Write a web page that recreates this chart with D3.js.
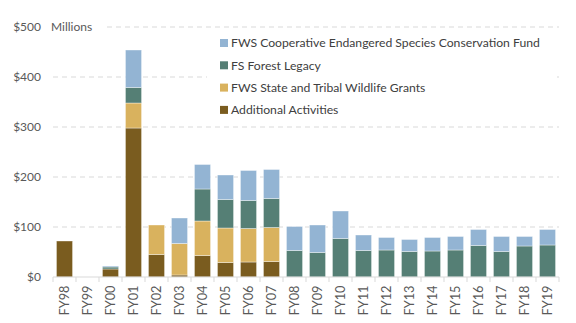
<!DOCTYPE html>
<html><head><meta charset="utf-8">
<script src="https://cdn.jsdelivr.net/npm/d3@7"></script>
<style>body{margin:0;background:#fff;} svg{display:block;font-family:Lato,"Open Sans",sans-serif;}</style>
</head><body><svg id="c" width="576" height="323"></svg>
<script>
const categories = ["FY98","FY99","FY00","FY01","FY02","FY03","FY04","FY05","FY06","FY07","FY08","FY09","FY10","FY11","FY12","FY13","FY14","FY15","FY16","FY17","FY18","FY19"];
const additionalActivities = [72,0,16,298,45,4,43,29,30,31,0,0,0,0,0,0,0,0,0,0,0,0];
const stateTribalGrants    = [0,0,0,50,59,63,69,69,67,68,0,0,0,0,0,0,0,0,0,0,0,0];
const forestLegacy         = [0,0,4,31,0,0,64,57,56,58,53,49,77,53,54,51,52,54,63,51,62,64];
const cooperativeFund      = [0,0,2,75,0,51,49,49,60,58,48,55,55,31,25,24,27,27,32,30,19,31];
const yTicks = [0,100,200,300,400,500];
const seriesNames = ["Additional Activities","FWS State and Tribal Wildlife Grants","FS Forest Legacy","FWS Cooperative Endangered Species Conservation Fund"];
const seriesColors = ["#7a5c1f","#d9b25e","#557f75","#93b4d3"];

const svg = d3.select("#c");
const margin = {left:53, right:17, top:27, bottom:46};
const W = 576, H = 323;
const x = d3.scaleBand().domain(categories).range([margin.left, W - margin.right]).paddingInner(0.3).paddingOuter(0.15);
const y = d3.scaleLinear().domain([0,500]).range([H - margin.bottom, margin.top]);

const rows = categories.map((c,i)=>({cat:c, s0:additionalActivities[i], s1:stateTribalGrants[i], s2:forestLegacy[i], s3:cooperativeFund[i]}));
const stack = d3.stack().keys(["s0","s1","s2","s3"])(rows);

// gridlines
svg.append("g").selectAll("line").data(yTicks.filter(d=>d>0)).join("line")
  .attr("x1", d => d===500 ? 107 : margin.left).attr("x2", W - margin.right)
  .attr("y1", d=>y(d)).attr("y2", d=>y(d))
  .attr("stroke","#d9d9d9").attr("stroke-width",1).attr("stroke-dasharray","5,4");

// y labels
svg.append("g").selectAll("text").data(yTicks).join("text")
  .attr("x", 41).attr("y", d=>y(d)).attr("dy","0.35em").attr("text-anchor","end")
  .attr("font-size",12).attr("fill","#595959").text(d=>"$"+d);
svg.append("text").attr("x",51).attr("y",y(500)).attr("dy","0.35em").attr("font-size",12).attr("fill","#595959").text("Millions");

// bars
svg.append("g").selectAll("g").data(stack).join("g").attr("fill",(d,i)=>seriesColors[i])
  .selectAll("rect").data(d=>d.filter(e=>e[1]-e[0]>0)).join("rect")
  .attr("x", d=>x(d.data.cat)).attr("width", x.bandwidth())
  .attr("y", d=>y(d[1])).attr("height", d=>y(d[0])-y(d[1]))
  .attr("stroke","#ffffff").attr("stroke-opacity",0.5).attr("stroke-width",0.75);

// x axis
const xAxis = svg.append("g").attr("transform",`translate(0,${y(0)})`);
xAxis.append("line").attr("x1",margin.left).attr("x2",W-margin.right).attr("stroke","#d9d9d9");
const bounds = categories.map(c=>x(c)-x.step()*x.paddingInner()/2).concat([W-margin.right]);
xAxis.selectAll("line.t").data(bounds).join("line").attr("class","t")
  .attr("x1",d=>d).attr("x2",d=>d).attr("y1",0).attr("y2",5).attr("stroke","#d9d9d9");
xAxis.selectAll("text").data(categories).join("text")
  .attr("transform", d=>`translate(${x(d)+x.bandwidth()/2},8.5) rotate(-90)`)
  .attr("text-anchor","end").attr("dy","0.35em").attr("font-size",12.8).attr("fill","#595959").text(d=>d);

// legend
const lg = svg.append("g");
lg.append("rect").attr("x",207).attr("y",31).attr("width",348).attr("height",90).attr("fill","#fff");
const legOrder = [3,2,1,0];
legOrder.forEach((si,k)=>{
  const yy = 43 + k*22.3;
  lg.append("rect").attr("x",220).attr("y",yy-4).attr("width",8).attr("height",8).attr("fill",seriesColors[si]);
  lg.append("text").attr("x",231).attr("y",yy).attr("dy","0.35em").attr("font-size",12.2).attr("fill","#404040").text(seriesNames[si]);
});
</script></body></html>
